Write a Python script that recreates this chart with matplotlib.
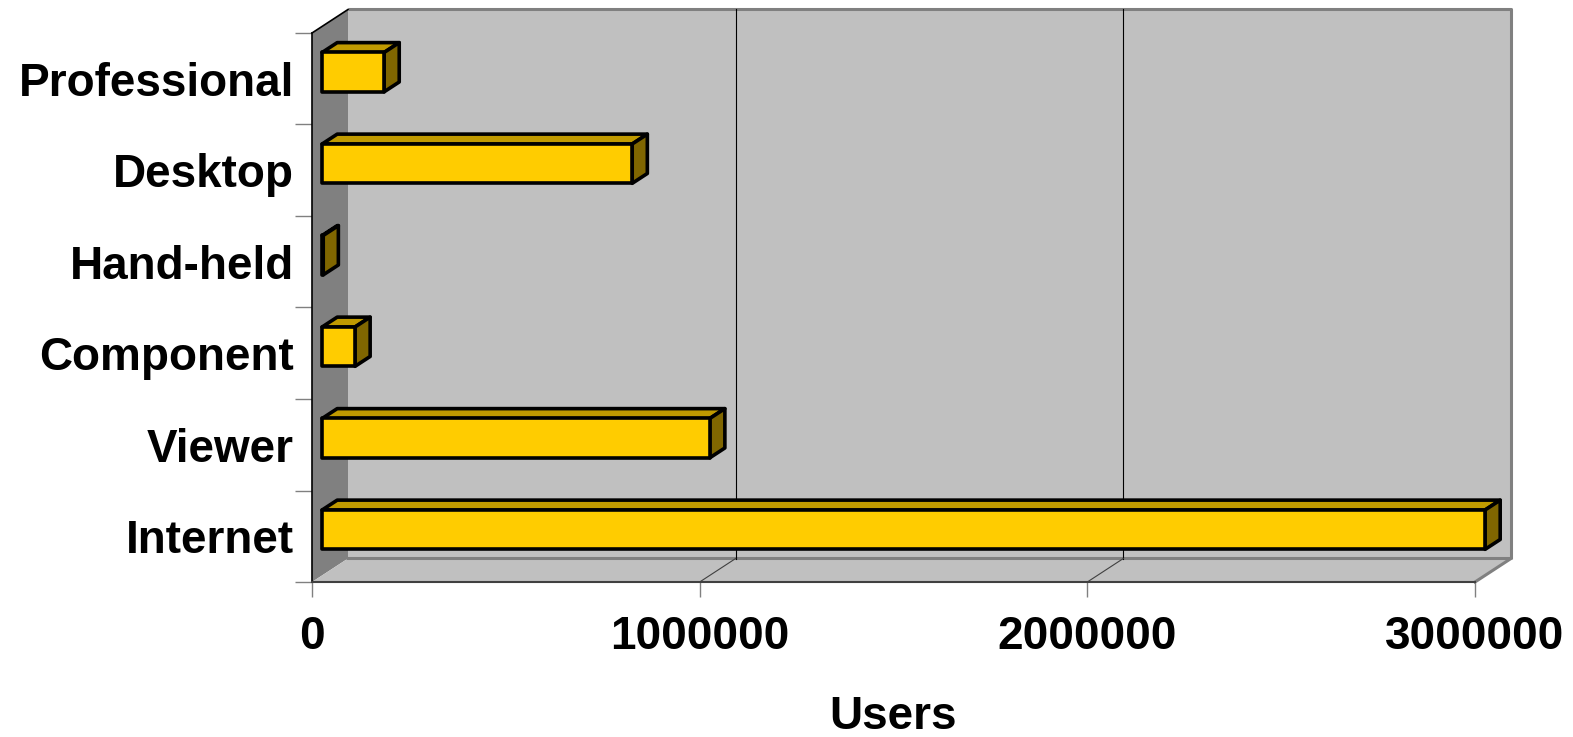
import matplotlib
matplotlib.use("Agg")
import matplotlib.pyplot as plt
from matplotlib.patches import Polygon

plt.rcParams['font.family'] = ['Liberation Sans', 'DejaVu Sans']
plt.rcParams['font.weight'] = 'bold'

# datos (de abajo hacia arriba)
categorias = ["Internet", "Viewer", "Component", "Hand-held", "Desktop", "Professional"]
usuarios = [3000000, 1000000, 85000, 3000, 800000, 160000]
xticks = [0, 1000000, 2000000, 3000000]
xlabel = "Users"

W, H = 1573, 737
fig = plt.figure(figsize=(W / 100, H / 100), dpi=100)
# plano frontal en pixeles
izq, der, arriba, abajo = 312, 1475, 33, 582
ax = fig.add_axes([izq / W, 1 - abajo / H, (der - izq) / W, (abajo - arriba) / H])
xmax = 3000000
n = len(categorias)
ax.set_xlim(0, xmax)
ax.set_ylim(0, n)

# profundidad en unidades de datos
px_x = xmax / (der - izq)
px_y = n / (abajo - arriba)
ddx = 36 * px_x
ddy = 23.5 * px_y

def poly(pts, fc, ec="none", lw=0, z=1):
    ax.add_patch(Polygon(pts, closed=True, facecolor=fc, edgecolor=ec, linewidth=lw,
                         zorder=z, clip_on=False, joinstyle="round"))

# paredes
poly([(0, 0), (ddx, ddy), (ddx, n + ddy), (0, n)], "#808080", z=1)
poly([(0, 0), (ddx, ddy), (xmax + ddx, ddy), (xmax, 0)], "#C0C0C0", z=1)
poly([(ddx, ddy), (xmax + ddx, ddy), (xmax + ddx, n + ddy), (ddx, n + ddy)], "#C0C0C0", z=1)

# bordes de las paredes
ax.plot([ddx, xmax + ddx, xmax + ddx], [n + ddy, n + ddy, ddy], color="#808080", lw=2.2,
        clip_on=False, zorder=2, solid_capstyle="butt")
ax.plot([ddx, xmax + ddx, xmax], [ddy, ddy, 0], color="#808080", lw=2.2, clip_on=False, zorder=2)
ax.plot([0, ddx], [n, n + ddy], color="black", lw=1.2, clip_on=False, zorder=3)

# lineas de cuadricula
for t in xticks[1:-1]:
    ax.plot([t + ddx, t + ddx], [ddy, n + ddy], color="black", lw=0.8, clip_on=False, zorder=2)
    ax.plot([t, t + ddx], [0, ddy], color="#404040", lw=0.8, clip_on=False, zorder=2)

# barras 3D
a, b = 0.28, 0.70
alto = 0.43
for i, v in enumerate(usuarios):
    x0 = a * ddx
    y0 = i + 0.5 - alto / 2 + a * ddy
    y1 = y0 + alto
    px = (b - a) * ddx
    py = (b - a) * ddy
    z = 10 + (n - i)
    poly([(x0, y1), (x0 + v, y1), (x0 + v + px, y1 + py), (x0 + px, y1 + py)],
         "#C09A00", "black", 2.6, z)
    poly([(x0 + v, y0), (x0 + v + px, y0 + py), (x0 + v + px, y1 + py), (x0 + v, y1)],
         "#806600", "black", 2.6, z)
    poly([(x0, y0), (x0 + v, y0), (x0 + v, y1), (x0, y1)], "#FFCC00", "black", 2.6, z + 0.5)

# ejes
for s in ["top", "right"]:
    ax.spines[s].set_visible(False)
ax.spines["left"].set_color("black")
ax.spines["left"].set_linewidth(1.2)
ax.spines["bottom"].set_color("#404040")
ax.spines["bottom"].set_linewidth(1.5)
ax.spines["left"].set_zorder(3)
ax.spines["bottom"].set_zorder(3)

ax.set_xticks(xticks)
ax.set_xticklabels([str(t) for t in xticks], fontsize=33, fontweight="bold")
ax.tick_params(axis="x", direction="out", length=11, width=1, color="#808080", pad=13)

ax.set_yticks(range(n + 1))
ax.set_yticklabels([])
ax.set_yticks([i + 0.5 for i in range(n)], minor=True)
ax.set_yticklabels(categorias, minor=True, fontsize=33, fontweight="bold")
ax.tick_params(axis="y", which="major", direction="out", length=12, width=1, color="#808080")
ax.tick_params(axis="y", which="minor", length=0, pad=13)

ax.set_xlabel(xlabel, fontsize=33, fontweight="bold", labelpad=26)
ax.patch.set_visible(False)

fig.savefig("out.png", dpi=100)
